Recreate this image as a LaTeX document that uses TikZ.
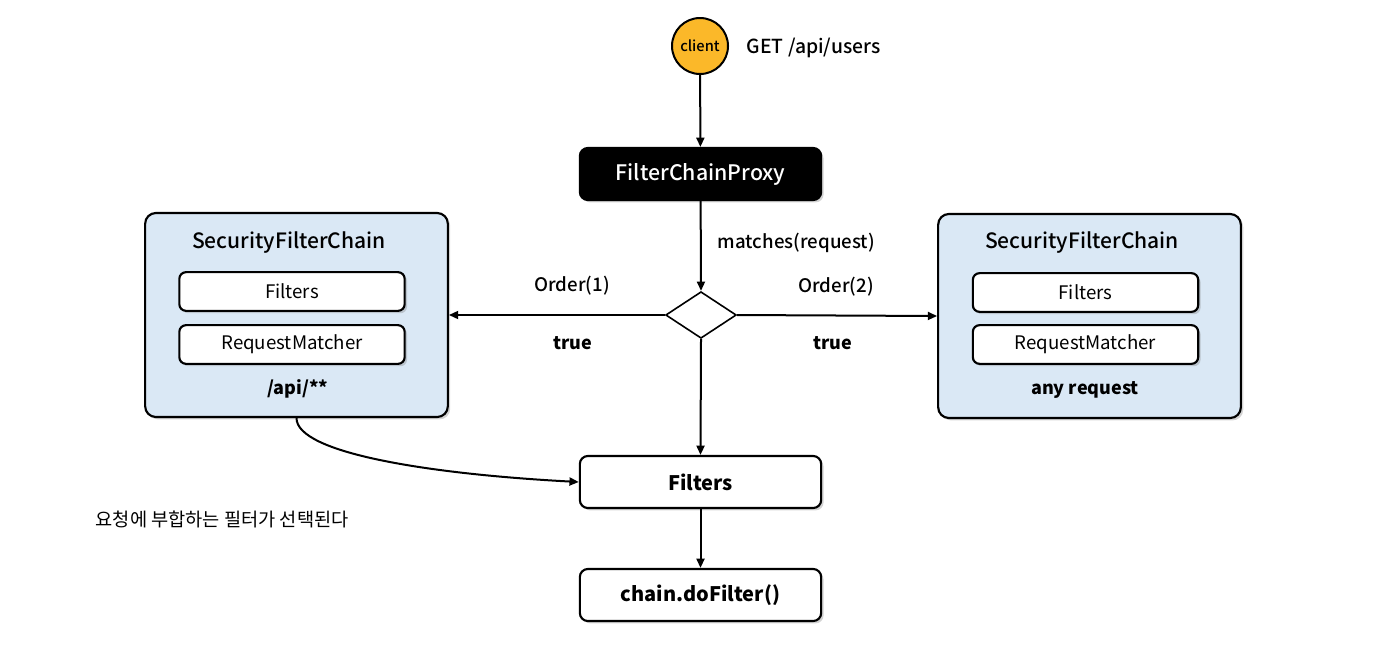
\documentclass[tikz,border=0pt]{standalone}
\usepackage{fontspec}
\setmainfont{Noto Sans CJK KR}
\newfontfamily\mediumfont{Noto Sans CJK KR Medium}
\usetikzlibrary{shapes.geometric,shadows,arrows.meta}
\definecolor{clientorange}{HTML}{FBB829}
\definecolor{chainblue}{HTML}{DAE8F5}

\tikzset{
  flow/.style={line width=1.5pt,-{Triangle[length=7pt,width=6pt]}},
  softshadow/.style={drop shadow={shadow xshift=1.8pt,shadow yshift=-1.8pt,opacity=0.35}},
  mainbox/.style={draw,line width=1.6pt,rounded corners=6pt,fill=white,softshadow,
    minimum width=181pt,minimum height=39pt,font=\fontsize{15}{17}\selectfont\bfseries},
  innerbox/.style={draw,line width=1.6pt,rounded corners=5pt,fill=white,softshadow,
    minimum width=169pt,minimum height=29pt,font=\fontsize{14}{16}\selectfont},
  chainbox/.style={draw,line width=1.6pt,rounded corners=8pt,fill=chainblue,softshadow,
    minimum width=227pt,minimum height=153pt},
  lbl/.style={font=\fontsize{14}{16}\selectfont\mediumfont},
  boldlbl/.style={font=\fontsize{13.5}{16}\selectfont\bfseries},
  chaintitle/.style={font=\fontsize{15.8}{18}\selectfont\mediumfont}
}

\begin{document}
\begin{tikzpicture}[x=0.75pt,y=-0.75pt]
\useasboundingbox (0,0) rectangle (1383,657);

% client request
\node[circle,draw,line width=1.5pt,fill=clientorange,minimum size=42pt,inner sep=0pt,
  font=\fontsize{11}{13}\selectfont\mediumfont] (client) at (700,46) {client};
\node[font=\fontsize{14.5}{17}\selectfont\mediumfont,anchor=west] (get) at (742,48) {GET /api/users};

\node[mainbox,fill=black,text=white,font=\fontsize{16}{18}\selectfont\mediumfont] (proxy) at (700.5,174) {FilterChainProxy};
\node[lbl,anchor=west] (matches) at (713,243) {matches(request)};

\node[diamond,draw,line width=1.2pt,fill=white,minimum width=53pt,minimum height=35pt,
  inner sep=0pt,aspect=1.5] (match) at (701,315) {};

% left chain
\node[chainbox] (lchain) at (296.5,315) {};
\node[chaintitle] (ltitle) at (289,243) {SecurityFilterChain};
\node[innerbox] (lfilters) at (292,291.5) {Filters};
\node[innerbox] (lmatcher) at (292,344.5) {RequestMatcher};
\node[boldlbl] (lpattern) at (298,389) {/api/**};

% right chain
\node[chainbox] (rchain) at (1089.5,316) {};
\node[chaintitle] (rtitle) at (1082,243) {SecurityFilterChain};
\node[innerbox] (rfilters) at (1085.5,292.5) {Filters};
\node[innerbox] (rmatcher) at (1085.5,344.5) {RequestMatcher};
\node[boldlbl] (rpattern) at (1085,390) {any request};

\node[lbl] (order1) at (572,286) {Order(1)};
\node[boldlbl] (true1) at (573,343) {true};
\node[lbl] (order2) at (836,287) {Order(2)};
\node[boldlbl] (true2) at (833,343) {true};

\node[mainbox] (filters) at (700.5,482) {Filters};
\node[mainbox] (dofilter) at (700.5,595) {chain.doFilter()};
\node[font=\fontsize{14}{16}\selectfont,anchor=west] (note) at (91,519) {요청에 부합하는 필터가 선택된다};

\draw[flow] (client) -- (proxy);
\draw[flow] (proxy) -- (match.north);
\draw[flow] (match.west) -- (lchain.east);
\draw[flow] (match.east) -- (rchain.west);
\draw[flow] (match.south) -- (filters.north);
\draw[flow] (lchain.south) .. controls +(0,35) and +(-150,-8) .. (filters.west);
\draw[flow] (filters) -- (dofilter);
\end{tikzpicture}
\end{document}
